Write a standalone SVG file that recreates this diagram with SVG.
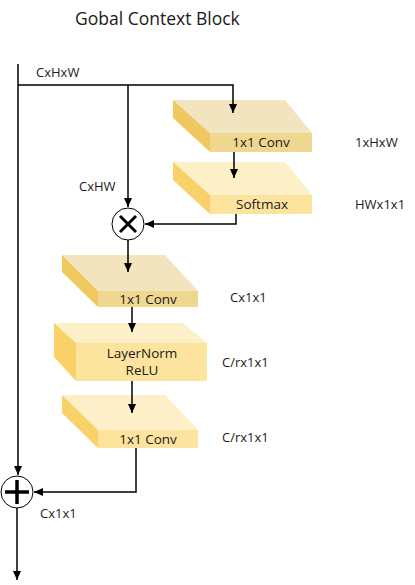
<svg xmlns="http://www.w3.org/2000/svg" width="415" height="585" viewBox="0 0 415 585">
<style>
text{font-family:"Open Sans","Liberation Sans",sans-serif;fill:#1a1a1a}
.lbl{font-size:13px}
.in{font-size:13.5px;text-anchor:middle}
.ln{stroke:#000;stroke-width:1.5;fill:none}
.topA{fill:#F2E4BF}.frontA{fill:#F0D78F}.sideA{fill:#EFC95F}
.topB{fill:#FDF0C8}.frontB{fill:#FCE49F}.sideB{fill:#F8D268}
</style>
<defs>
<marker id="ah" markerWidth="10" markerHeight="10" refX="9" refY="4" orient="auto" markerUnits="userSpaceOnUse">
<path d="M0,0 L9,4 L0,8 Z" fill="#000"/>
</marker>
</defs>
<rect width="415" height="585" fill="#fff"/>
<text x="75" y="25" style="font-size:17.5px">Gobal Context Block</text>

<g id="conv1">
<polygon class="topA" points="173,100 285,100 312,133 210,133"/>
<polygon class="sideA" points="173,100 210,133 210,152 173,118"/>
<rect class="frontA" x="210" y="133" width="102" height="19"/>
<text class="in" x="261" y="147">1x1 Conv</text>
</g>
<g id="softmax">
<polygon class="topB" points="173,162 285,162 312,195 210,195"/>
<polygon class="sideB" points="173,162 210,195 210,214 173,180"/>
<rect class="frontB" x="210" y="195" width="102" height="19"/>
<text class="in" x="262" y="209">Softmax</text>
</g>
<g id="mul">
<circle cx="128" cy="224" r="16" fill="#fff" stroke="#000" stroke-width="1"/>
<path d="M120,216 L136,232 M136,216 L120,232" stroke="#000" stroke-width="3"/>
</g>
<g id="conv2">
<polygon class="topA" points="62,255 165,255 198,291 98,291"/>
<polygon class="sideA" points="62,255 98,291 98,307 62,272"/>
<rect class="frontA" x="98" y="291" width="100" height="16"/>
<text class="in" x="148" y="304">1x1 Conv</text>
</g>
<g id="lnrelu">
<polygon class="topB" points="54,323 183,323 207,343 76,343"/>
<polygon class="sideB" points="54,323 76,343 76,381 54,357"/>
<rect class="frontB" x="76" y="343" width="131" height="38"/>
<text class="in" x="142" y="358">LayerNorm</text>
<text class="in" x="142" y="375">ReLU</text>
</g>
<g id="conv3">
<polygon class="topB" points="62,395 165,395 198,430 98,430"/>
<polygon class="sideB" points="62,395 98,430 98,448 62,413"/>
<rect class="frontB" x="98" y="430" width="100" height="18"/>
<text class="in" x="148" y="444">1x1 Conv</text>
</g>
<g id="add">
<circle cx="17" cy="492" r="16" fill="#fff" stroke="#000" stroke-width="1"/>
<path d="M5,492 L29,492 M17,480 L17,504" stroke="#000" stroke-width="3.5"/>
</g>

<g id="connectors">
<path class="ln" d="M18,64 L18,475" marker-end="url(#ah)"/>
<path class="ln" d="M18,85 L233,85 L233,113" marker-end="url(#ah)"/>
<path class="ln" d="M128,85 L128,207" marker-end="url(#ah)"/>
<path class="ln" d="M234,152 L234,178" marker-end="url(#ah)"/>
<path class="ln" d="M236,214 L236,224 L145,224" marker-end="url(#ah)"/>
<path class="ln" d="M128,240 L128,272" marker-end="url(#ah)"/>
<path class="ln" d="M132,307 L132,332" marker-end="url(#ah)"/>
<path class="ln" d="M132,381 L132,413" marker-end="url(#ah)"/>
<path class="ln" d="M136,448 L136,492 L34,492" marker-end="url(#ah)"/>
<path class="ln" d="M17,508 L17,580" marker-end="url(#ah)"/>
</g>

<text class="lbl" x="36" y="77">CxHxW</text>
<text class="lbl" x="79" y="191">CxHW</text>
<text class="lbl" x="355" y="147">1xHxW</text>
<text class="lbl" x="355" y="209">HWx1x1</text>
<text class="lbl" x="230" y="302">Cx1x1</text>
<text class="lbl" x="222" y="367">C/rx1x1</text>
<text class="lbl" x="222" y="442">C/rx1x1</text>
<text class="lbl" x="40" y="518">Cx1x1</text>
</svg>
